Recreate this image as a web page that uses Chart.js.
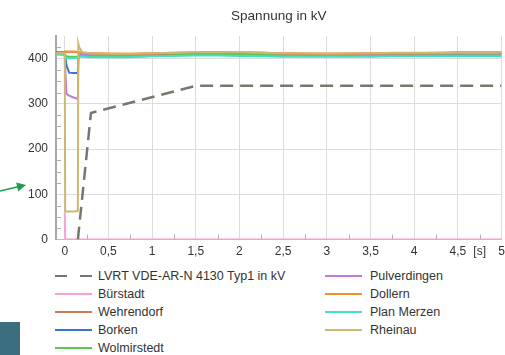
<!DOCTYPE html>
<html>
<head>
<meta charset="utf-8">
<script src="https://cdn.jsdelivr.net/npm/chart.js@4/dist/chart.umd.min.js"></script>
<style>
  html, body { margin:0; padding:0; background:#fff; }
  #wrap { position:relative; width:505px; height:355px; overflow:hidden; font-family:"Liberation Sans", Arial, sans-serif; }
  #cv { position:absolute; left:0; top:0; }
  .lg { position:absolute; font-size:12.5px; color:#333; line-height:14px; white-space:nowrap; }
  .sw { position:absolute; }
  #block { position:absolute; left:0; top:322px; width:20px; height:33px; background:#3b6e7f; }
  #arrow { position:absolute; left:0; top:0; }
</style>
</head>
<body>
<div id="wrap">
  <canvas id="cv" width="505" height="269"></canvas>
  <div id="legend"></div>
  <div id="block"></div>
  <svg id="arrow" width="40" height="260">
    <line x1="0" y1="191" x2="18" y2="186.8" stroke="#1f9e4e" stroke-width="1.6"/>
    <polygon points="26,185 18.2,191.4 16.2,182.6" fill="#1f9e4e"/>
  </svg>
</div>
<script>
// ---- data ----
const chartTitle = "Spannung in kV";
const timeS = [-0.1, 0, 0.005, 0.02, 0.05, 0.1, 0.15, 0.155, 0.165, 0.2, 0.3, 0.5, 0.75, 1, 1.25, 1.5, 1.75, 2, 2.25, 2.5, 2.75, 3, 3.25, 3.5, 3.75, 4, 4.25, 4.5, 4.75, 5];
const lvrtTime = [0.15, 0.3, 1.5, 5];
const lvrtKV   = [0, 280, 340, 340];
const buerstadt    = [null, 60, 0, 0, 0, 0, 0, 0, 0, 0, 0, 0, 0, 0, 0, 0, 0, 0, 0, 0, 0, 0, 0, 0, 0, 0, 0, 0, 0, 0];
const wehrendorf   = [413, 413, 414, 415, 415, 415, 414, 412, 413, 413, 412, 411, 410, 411, 412, 413, 413, 413, 413, 412, 411, 411, 411, 412, 412, 412, 412, 413, 413, 413];
const borken       = [414, 414, 405, 385, 369, 368, 368, 400, 410, 411, 409, 408, 408, 409, 410, 411, 411, 410, 410, 409, 408, 408, 408, 409, 409, 409, 409, 410, 410, 410];
const wolmirstedt  = [410, 410, 408, 405, 404, 404, 404, 405, 407, 406, 405, 404, 404, 406, 408, 409, 409, 409, 408, 407, 406, 406, 406, 406, 407, 407, 407, 407, 407, 407];
const pulverdingen = [410, 410, 380, 322, 318, 314, 311, 400, 408, 409, 408, 408, 408, 408, 409, 410, 410, 410, 410, 409, 408, 408, 408, 408, 409, 409, 409, 409, 409, 409];
const dollern      = [412, 413, 416, 416, 415, 415, 415, 414, 414, 413, 412, 411, 411, 412, 413, 414, 414, 414, 413, 412, 411, 411, 411, 412, 412, 412, 413, 414, 414, 414];
const planMerzen   = [409, 408, 403, 401, 401, 401, 402, 403, 404, 404, 403, 403, 403, 405, 406, 407, 407, 406, 405, 404, 404, 404, 404, 404, 405, 405, 405, 405, 405, 405];
const rheinau      = [412, 412, 62, 62, 62, 62, 63, 433, 425, 414, 412, 411, 411, 412, 413, 414, 414, 414, 413, 412, 412, 411, 412, 412, 413, 413, 413, 413, 413, 413];
const xTickValues = [0, 0.5, 1, 1.5, 2, 2.5, 3, 3.5, 4, 4.5, 4.75, 5];
const xTickLabels = ["0", "0,5", "1", "1,5", "2", "2,5", "3", "3,5", "4", "4,5", "[s]", "5"];
const yTickValues = [0, 100, 200, 300, 400];
const yTickLabels = ["0", "100", "200", "300", "400"];

// ---- styling ----
const FONT = '"Liberation Sans", Arial, sans-serif';
const toXY = (t, v) => t.map((x, i) => ({ x: x, y: v[i] }));
const series = [
  { label: "LVRT VDE-AR-N 4130 Typ1 in kV", color: "#737a6c", data: toXY(lvrtTime, lvrtKV), dash: [13, 7], width: 2.5, order: 0 },
  { label: "Bürstadt",     color: "#f7a2d0", data: toXY(timeS, buerstadt),    order: 9 },
  { label: "Wehrendorf",   color: "#c97b52", data: toXY(timeS, wehrendorf),   order: 3 },
  { label: "Borken",       color: "#3576d2", data: toXY(timeS, borken),       order: 7 },
  { label: "Wolmirstedt",  color: "#5cc852", data: toXY(timeS, wolmirstedt),  order: 5 },
  { label: "Pulverdingen", color: "#c27ad8", data: toXY(timeS, pulverdingen), order: 6 },
  { label: "Dollern",      color: "#f5902e", data: toXY(timeS, dollern),      order: 2 },
  { label: "Plan Merzen",  color: "#42e0c6", data: toXY(timeS, planMerzen),   order: 4 },
  { label: "Rheinau",      color: "#cdb870", data: toXY(timeS, rheinau),      order: 1 }
];

const minorTicks = {
  id: 'minorTicks',
  beforeDatasetsDraw(chart) {
    const { ctx, chartArea: a, scales: { x, y } } = chart;
    ctx.save();
    ctx.strokeStyle = '#b0b0b0';
    ctx.lineWidth = 1;
    ctx.beginPath();
    for (let v = 25; v < 450; v += 25) {
      if (v % 100 === 0) continue;
      const py = Math.round(y.getPixelForValue(v)) + 0.5;
      ctx.moveTo(a.left, py); ctx.lineTo(a.left + 5, py);
    }
    for (let v = 0.25; v < 5; v += 0.5) {
      const px = Math.round(x.getPixelForValue(v)) + 0.5;
      ctx.moveTo(px, a.bottom); ctx.lineTo(px, a.bottom - 5);
    }
    ctx.stroke();
    ctx.restore();
  },
  afterDraw(chart) {
    const { ctx, chartArea: a } = chart;
    ctx.save();
    ctx.font = '13.5px ' + FONT;
    ctx.fillStyle = '#333';
    ctx.textAlign = 'center';
    ctx.textBaseline = 'middle';
    ctx.fillText(chartTitle, (a.left + a.right) / 2, 16);
    ctx.restore();
  }
};

new Chart(document.getElementById('cv'), {
  type: 'line',
  data: {
    datasets: series.map(s => ({
      label: s.label, data: s.data, borderColor: s.color, backgroundColor: s.color,
      borderWidth: s.width || 2, borderDash: s.dash || [], pointRadius: 0, tension: 0,
      fill: false, spanGaps: false, order: s.order
    }))
  },
  options: {
    responsive: false, animation: false, devicePixelRatio: 1,
    layout: { padding: { top: 36, left: 20, right: 0, bottom: 5 } },
    plugins: { legend: { display: false }, tooltip: { enabled: false }, title: { display: false } },
    scales: {
      x: {
        type: 'linear', min: -0.1, max: 5,
        afterBuildTicks: s => { s.ticks = xTickValues.map(v => ({ value: v })); },
        afterFit: s => { s.paddingRight = 3.5; s.paddingLeft = 0; },
        ticks: { autoSkip: false, maxRotation: 0, padding: 5, color: '#333', font: { size: 12, family: FONT },
                 callback: (v, i) => xTickLabels[i] },
        grid: { drawTicks: false, color: c => (c.tick && c.tick.value === 4.75) ? 'rgba(0,0,0,0)' : '#dcdcdc' },
        border: { color: '#bdbdbd' }
      },
      y: {
        min: 0, max: 450,
        afterBuildTicks: s => { s.ticks = yTickValues.map(v => ({ value: v })); },
        ticks: { padding: 8, color: '#333', font: { size: 12, family: FONT }, callback: (v, i) => yTickLabels[i] },
        grid: { drawTicks: false, color: '#dcdcdc' },
        border: { color: '#a8a8a8', width: 2 }
      }
    }
  },
  plugins: [minorTicks]
});

// ---- legend (two columns, column-major) ----
const legendCols = [[0, 1, 2, 3, 4], [5, 6, 7, 8]];
const colX = [{ line: 55, text: 98 }, { line: 325, text: 370 }];
const lg = document.getElementById('legend');
legendCols.forEach((col, ci) => {
  col.forEach((si, ri) => {
    const s = series[si];
    const cy = 276 + ri * 18;
    const svg = document.createElementNS('http://www.w3.org/2000/svg', 'svg');
    svg.setAttribute('class', 'sw');
    svg.setAttribute('width', '38'); svg.setAttribute('height', '6');
    svg.style.left = colX[ci].line + 'px'; svg.style.top = (cy - 3) + 'px';
    const ln = document.createElementNS('http://www.w3.org/2000/svg', 'line');
    ln.setAttribute('x1', '0'); ln.setAttribute('x2', '37'); ln.setAttribute('y1', '3'); ln.setAttribute('y2', '3');
    ln.setAttribute('stroke', s.color); ln.setAttribute('stroke-width', '2.2');
    if (s.dash) ln.setAttribute('stroke-dasharray', '12 13');
    svg.appendChild(ln);
    lg.appendChild(svg);
    const t = document.createElement('div');
    t.className = 'lg';
    t.textContent = s.label;
    t.style.left = colX[ci].text + 'px';
    t.style.top = (cy - 7) + 'px';
    lg.appendChild(t);
  });
});
</script>
</body>
</html>
